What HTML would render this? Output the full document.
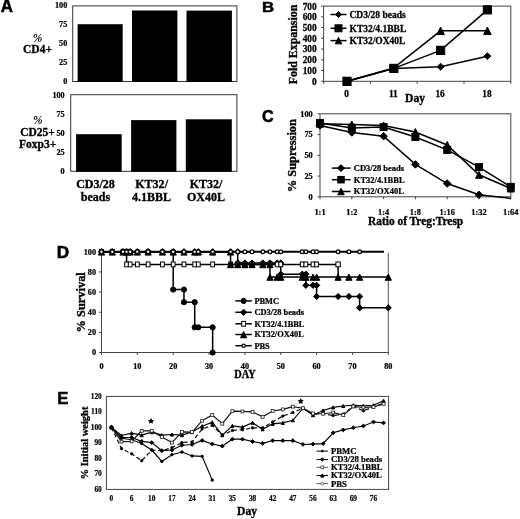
<!DOCTYPE html>
<html><head><meta charset="utf-8"><title>Figure</title>
<style>
html,body{margin:0;padding:0;background:#fff;}
body{width:520px;height:519px;overflow:hidden;font-family:"Liberation Serif",serif;}
svg{display:block;will-change:transform;filter:blur(0.3px);}
</style></head>
<body>
<svg width="520" height="519" viewBox="0 0 520 519">
<rect width="520" height="519" fill="#fff"/>
<text x="0" y="0" font-size="200.0" font-family='"Liberation Sans", sans-serif' font-weight="bold" stroke="#000" stroke-width="6.42" stroke-linejoin="miter" transform="matrix(0.08396 0 0 0.08732 0.655 12.325)">A</text>
<text x="0" y="0" font-size="200.0" font-family='"Liberation Sans", sans-serif' font-weight="bold" stroke="#000" stroke-width="6.89" stroke-linejoin="miter" transform="matrix(0.08402 0 0 0.07572 261.883 12.425)">B</text>
<text x="0" y="0" font-size="200.0" font-family='"Liberation Sans", sans-serif' font-weight="bold" stroke="#000" stroke-width="6.62" stroke-linejoin="miter" transform="matrix(0.08053 0 0 0.08556 261.931 121.954)">C</text>
<text x="0" y="0" font-size="200.0" font-family='"Liberation Sans", sans-serif' font-weight="bold" stroke="#000" stroke-width="6.38" stroke-linejoin="miter" transform="matrix(0.08577 0 0 0.08659 56.860 257.925)">D</text>
<text x="0" y="0" font-size="200.0" font-family='"Liberation Sans", sans-serif' font-weight="bold" stroke="#000" stroke-width="6.52" stroke-linejoin="miter" transform="matrix(0.08363 0 0 0.08514 57.288 403.925)">E</text>
<rect x="72.70" y="5.90" width="164.20" height="75.60" fill="none" stroke="#333" stroke-width="1"/>
<rect x="70.70" y="94.70" width="166.20" height="76.60" fill="none" stroke="#333" stroke-width="1"/>
<rect x="77.60" y="24.20" width="45.10" height="57.80" fill="#000" stroke="none" stroke-width="1"/>
<rect x="132.00" y="10.50" width="45.40" height="71.50" fill="#000" stroke="none" stroke-width="1"/>
<rect x="186.50" y="10.60" width="45.40" height="71.40" fill="#000" stroke="none" stroke-width="1"/>
<rect x="76.10" y="134.20" width="45.60" height="37.60" fill="#000" stroke="none" stroke-width="1"/>
<rect x="131.10" y="120.10" width="45.30" height="51.70" fill="#000" stroke="none" stroke-width="1"/>
<rect x="185.80" y="119.30" width="46.00" height="52.50" fill="#000" stroke="none" stroke-width="1"/>
<text x="67.30" y="84.30" font-size="8.2" text-anchor="end" font-family='"Liberation Serif", serif' font-weight="bold" fill="#000" stroke="#000" stroke-width="0.23">0</text>
<text x="64.70" y="174.10" font-size="8.2" text-anchor="end" font-family='"Liberation Serif", serif' font-weight="bold" fill="#000" stroke="#000" stroke-width="0.23">0</text>
<text x="67.30" y="65.30" font-size="8.2" text-anchor="end" font-family='"Liberation Serif", serif' font-weight="bold" fill="#000" stroke="#000" stroke-width="0.23">25</text>
<text x="64.70" y="154.95" font-size="8.2" text-anchor="end" font-family='"Liberation Serif", serif' font-weight="bold" fill="#000" stroke="#000" stroke-width="0.23">25</text>
<text x="67.30" y="46.30" font-size="8.2" text-anchor="end" font-family='"Liberation Serif", serif' font-weight="bold" fill="#000" stroke="#000" stroke-width="0.23">50</text>
<text x="64.70" y="135.80" font-size="8.2" text-anchor="end" font-family='"Liberation Serif", serif' font-weight="bold" fill="#000" stroke="#000" stroke-width="0.23">50</text>
<text x="67.30" y="27.30" font-size="8.2" text-anchor="end" font-family='"Liberation Serif", serif' font-weight="bold" fill="#000" stroke="#000" stroke-width="0.23">75</text>
<text x="64.70" y="116.65" font-size="8.2" text-anchor="end" font-family='"Liberation Serif", serif' font-weight="bold" fill="#000" stroke="#000" stroke-width="0.23">75</text>
<text x="67.30" y="8.30" font-size="8.2" text-anchor="end" font-family='"Liberation Serif", serif' font-weight="bold" fill="#000" stroke="#000" stroke-width="0.23">100</text>
<text x="64.70" y="97.50" font-size="8.2" text-anchor="end" font-family='"Liberation Serif", serif' font-weight="bold" fill="#000" stroke="#000" stroke-width="0.23">100</text>
<text x="37.50" y="41.50" font-size="11.5" text-anchor="middle" font-family='"Liberation Serif", serif' font-weight="bold" fill="#000" font-style="italic">%</text>
<text x="37.50" y="53.00" font-size="11.5" text-anchor="middle" font-family='"Liberation Serif", serif' font-weight="bold" fill="#000" stroke="#000" stroke-width="0.32">CD4+</text>
<text x="37.70" y="124.20" font-size="11.5" text-anchor="middle" font-family='"Liberation Serif", serif' font-weight="bold" fill="#000" font-style="italic">%</text>
<text x="37.50" y="136.00" font-size="11.5" text-anchor="middle" font-family='"Liberation Serif", serif' font-weight="bold" fill="#000" stroke="#000" stroke-width="0.32">CD25+</text>
<text x="37.60" y="148.40" font-size="11.5" text-anchor="middle" font-family='"Liberation Serif", serif' font-weight="bold" fill="#000" stroke="#000" stroke-width="0.32">Foxp3+</text>
<text x="0" y="0" font-size="13.0" text-anchor="middle" transform="translate(95.50 187.90) scale(0.9250 1)" font-family='"Liberation Serif", serif' font-weight="bold" fill="#000" stroke="#000" stroke-width="0.36">CD3/28</text>
<text x="0" y="0" font-size="13.0" text-anchor="middle" transform="translate(95.50 201.30) scale(0.9250 1)" font-family='"Liberation Serif", serif' font-weight="bold" fill="#000" stroke="#000" stroke-width="0.36">beads</text>
<text x="0" y="0" font-size="13.0" text-anchor="middle" transform="translate(151.60 187.90) scale(0.9250 1)" font-family='"Liberation Serif", serif' font-weight="bold" fill="#000" stroke="#000" stroke-width="0.36">KT32/</text>
<text x="0" y="0" font-size="13.0" text-anchor="middle" transform="translate(151.60 201.30) scale(0.9250 1)" font-family='"Liberation Serif", serif' font-weight="bold" fill="#000" stroke="#000" stroke-width="0.36">4.1BBL</text>
<text x="0" y="0" font-size="13.0" text-anchor="middle" transform="translate(206.00 187.90) scale(0.9250 1)" font-family='"Liberation Serif", serif' font-weight="bold" fill="#000" stroke="#000" stroke-width="0.36">KT32/</text>
<text x="0" y="0" font-size="13.0" text-anchor="middle" transform="translate(206.00 201.30) scale(0.9250 1)" font-family='"Liberation Serif", serif' font-weight="bold" fill="#000" stroke="#000" stroke-width="0.36">OX40L</text>
<rect x="323.60" y="6.10" width="187.20" height="75.20" fill="none" stroke="#444" stroke-width="1"/>
<line x1="321.10" y1="81.30" x2="323.60" y2="81.30" stroke="#444" stroke-width="1"/>
<text x="316.60" y="84.70" font-size="9.3" text-anchor="end" font-family='"Liberation Serif", serif' font-weight="bold" fill="#000" stroke="#000" stroke-width="0.26">0</text>
<line x1="321.10" y1="70.56" x2="323.60" y2="70.56" stroke="#444" stroke-width="1"/>
<text x="316.60" y="73.96" font-size="9.3" text-anchor="end" font-family='"Liberation Serif", serif' font-weight="bold" fill="#000" stroke="#000" stroke-width="0.26">100</text>
<line x1="321.10" y1="59.81" x2="323.60" y2="59.81" stroke="#444" stroke-width="1"/>
<text x="316.60" y="63.21" font-size="9.3" text-anchor="end" font-family='"Liberation Serif", serif' font-weight="bold" fill="#000" stroke="#000" stroke-width="0.26">200</text>
<line x1="321.10" y1="49.07" x2="323.60" y2="49.07" stroke="#444" stroke-width="1"/>
<text x="316.60" y="52.47" font-size="9.3" text-anchor="end" font-family='"Liberation Serif", serif' font-weight="bold" fill="#000" stroke="#000" stroke-width="0.26">300</text>
<line x1="321.10" y1="38.33" x2="323.60" y2="38.33" stroke="#444" stroke-width="1"/>
<text x="316.60" y="41.73" font-size="9.3" text-anchor="end" font-family='"Liberation Serif", serif' font-weight="bold" fill="#000" stroke="#000" stroke-width="0.26">400</text>
<line x1="321.10" y1="27.59" x2="323.60" y2="27.59" stroke="#444" stroke-width="1"/>
<text x="316.60" y="30.99" font-size="9.3" text-anchor="end" font-family='"Liberation Serif", serif' font-weight="bold" fill="#000" stroke="#000" stroke-width="0.26">500</text>
<line x1="321.10" y1="16.84" x2="323.60" y2="16.84" stroke="#444" stroke-width="1"/>
<text x="316.60" y="20.24" font-size="9.3" text-anchor="end" font-family='"Liberation Serif", serif' font-weight="bold" fill="#000" stroke="#000" stroke-width="0.26">600</text>
<line x1="321.10" y1="6.10" x2="323.60" y2="6.10" stroke="#444" stroke-width="1"/>
<text x="316.60" y="9.50" font-size="9.3" text-anchor="end" font-family='"Liberation Serif", serif' font-weight="bold" fill="#000" stroke="#000" stroke-width="0.26">700</text>
<line x1="323.60" y1="81.30" x2="323.60" y2="83.80" stroke="#444" stroke-width="1"/>
<line x1="370.40" y1="81.30" x2="370.40" y2="83.80" stroke="#444" stroke-width="1"/>
<line x1="417.20" y1="81.30" x2="417.20" y2="83.80" stroke="#444" stroke-width="1"/>
<line x1="464.00" y1="81.30" x2="464.00" y2="83.80" stroke="#444" stroke-width="1"/>
<line x1="510.80" y1="81.30" x2="510.80" y2="83.80" stroke="#444" stroke-width="1"/>
<text x="346.50" y="97.00" font-size="9.3" text-anchor="middle" font-family='"Liberation Serif", serif' font-weight="bold" fill="#000" stroke="#000" stroke-width="0.26">0</text>
<text x="393.30" y="97.00" font-size="9.3" text-anchor="middle" font-family='"Liberation Serif", serif' font-weight="bold" fill="#000" stroke="#000" stroke-width="0.26">11</text>
<text x="440.10" y="97.00" font-size="9.3" text-anchor="middle" font-family='"Liberation Serif", serif' font-weight="bold" fill="#000" stroke="#000" stroke-width="0.26">16</text>
<text x="486.90" y="97.00" font-size="9.3" text-anchor="middle" font-family='"Liberation Serif", serif' font-weight="bold" fill="#000" stroke="#000" stroke-width="0.26">18</text>
<text x="0" y="0" font-size="13.4" text-anchor="middle" transform="translate(415.00 102.40) scale(0.8650 1)" font-family='"Liberation Serif", serif' font-weight="bold" fill="#000" stroke="#000" stroke-width="0.38">Day</text>
<text x="297.00" y="44.50" font-size="11.9" text-anchor="middle" font-family='"Liberation Serif", serif' font-weight="bold" fill="#000" stroke="#000" stroke-width="0.33" transform="rotate(-90 297.00 44.50)">Fold Expansion</text>
<polyline points="347.00,81.30 393.80,68.41 440.60,66.69 487.40,56.16" fill="none" stroke="#000" stroke-width="1.5" stroke-linejoin="miter"/>
<polyline points="347.00,81.30 393.80,68.41 440.60,50.36 487.40,9.86" fill="none" stroke="#000" stroke-width="1.5" stroke-linejoin="miter"/>
<polyline points="347.00,81.30 393.80,67.87 440.60,30.81 487.40,30.81" fill="none" stroke="#000" stroke-width="1.5" stroke-linejoin="miter"/>
<polygon points="347.00,77.85 350.45,81.30 347.00,84.75 343.55,81.30" fill="#000" stroke="#000" stroke-width="1"/>
<polygon points="393.80,64.96 397.25,68.41 393.80,71.86 390.35,68.41" fill="#000" stroke="#000" stroke-width="1"/>
<polygon points="440.60,63.24 444.05,66.69 440.60,70.14 437.15,66.69" fill="#000" stroke="#000" stroke-width="1"/>
<polygon points="487.40,52.71 490.85,56.16 487.40,59.61 483.95,56.16" fill="#000" stroke="#000" stroke-width="1"/>
<polygon points="347.00,77.55 350.75,85.05 343.25,85.05" fill="#000" stroke="#000" stroke-width="1"/>
<polygon points="393.80,64.12 397.55,71.62 390.05,71.62" fill="#000" stroke="#000" stroke-width="1"/>
<polygon points="440.60,27.06 444.35,34.56 436.85,34.56" fill="#000" stroke="#000" stroke-width="1"/>
<polygon points="487.40,27.06 491.15,34.56 483.65,34.56" fill="#000" stroke="#000" stroke-width="1"/>
<rect x="342.90" y="77.20" width="8.20" height="8.20" fill="#000" stroke="#000" stroke-width="1"/>
<rect x="389.70" y="64.31" width="8.20" height="8.20" fill="#000" stroke="#000" stroke-width="1"/>
<rect x="436.50" y="46.26" width="8.20" height="8.20" fill="#000" stroke="#000" stroke-width="1"/>
<rect x="483.30" y="5.76" width="8.20" height="8.20" fill="#000" stroke="#000" stroke-width="1"/>
<line x1="330.50" y1="14.50" x2="346.50" y2="14.50" stroke="#000" stroke-width="1.5"/>
<polygon points="338.50,11.50 341.50,14.50 338.50,17.50 335.50,14.50" fill="#000" stroke="#000" stroke-width="1"/>
<text x="349.50" y="17.70" font-size="9.5" text-anchor="start" font-family='"Liberation Serif", serif' font-weight="bold" fill="#000" stroke="#000" stroke-width="0.27">CD3/28 beads</text>
<line x1="330.50" y1="28.30" x2="346.50" y2="28.30" stroke="#000" stroke-width="1.5"/>
<rect x="335.00" y="24.80" width="7.00" height="7.00" fill="#000" stroke="#000" stroke-width="1"/>
<text x="349.50" y="31.50" font-size="9.5" text-anchor="start" font-family='"Liberation Serif", serif' font-weight="bold" fill="#000" stroke="#000" stroke-width="0.27">KT32/4.1BBL</text>
<line x1="330.50" y1="40.60" x2="346.50" y2="40.60" stroke="#000" stroke-width="1.5"/>
<polygon points="338.50,37.35 341.75,43.85 335.25,43.85" fill="#000" stroke="#000" stroke-width="1"/>
<text x="349.50" y="43.80" font-size="9.5" text-anchor="start" font-family='"Liberation Serif", serif' font-weight="bold" fill="#000" stroke="#000" stroke-width="0.27">KT32/OX40L</text>
<rect x="320.00" y="113.80" width="190.80" height="83.00" fill="none" stroke="#444" stroke-width="1"/>
<line x1="317.50" y1="196.80" x2="320.00" y2="196.80" stroke="#444" stroke-width="1"/>
<text x="312.80" y="199.70" font-size="8.4" text-anchor="end" font-family='"Liberation Serif", serif' font-weight="bold" fill="#000" stroke="#000" stroke-width="0.24">0</text>
<line x1="317.50" y1="176.05" x2="320.00" y2="176.05" stroke="#444" stroke-width="1"/>
<text x="312.80" y="178.95" font-size="8.4" text-anchor="end" font-family='"Liberation Serif", serif' font-weight="bold" fill="#000" stroke="#000" stroke-width="0.24">25</text>
<line x1="317.50" y1="155.30" x2="320.00" y2="155.30" stroke="#444" stroke-width="1"/>
<text x="312.80" y="158.20" font-size="8.4" text-anchor="end" font-family='"Liberation Serif", serif' font-weight="bold" fill="#000" stroke="#000" stroke-width="0.24">50</text>
<line x1="317.50" y1="134.55" x2="320.00" y2="134.55" stroke="#444" stroke-width="1"/>
<text x="312.80" y="137.45" font-size="8.4" text-anchor="end" font-family='"Liberation Serif", serif' font-weight="bold" fill="#000" stroke="#000" stroke-width="0.24">75</text>
<line x1="317.50" y1="113.80" x2="320.00" y2="113.80" stroke="#444" stroke-width="1"/>
<text x="312.80" y="116.70" font-size="8.4" text-anchor="end" font-family='"Liberation Serif", serif' font-weight="bold" fill="#000" stroke="#000" stroke-width="0.24">100</text>
<line x1="320.00" y1="196.80" x2="320.00" y2="199.30" stroke="#444" stroke-width="1"/>
<text x="320.00" y="214.60" font-size="8.4" text-anchor="middle" font-family='"Liberation Serif", serif' font-weight="bold" fill="#000" stroke="#000" stroke-width="0.24">1:1</text>
<line x1="351.80" y1="196.80" x2="351.80" y2="199.30" stroke="#444" stroke-width="1"/>
<text x="351.80" y="214.60" font-size="8.4" text-anchor="middle" font-family='"Liberation Serif", serif' font-weight="bold" fill="#000" stroke="#000" stroke-width="0.24">1:2</text>
<line x1="383.60" y1="196.80" x2="383.60" y2="199.30" stroke="#444" stroke-width="1"/>
<text x="383.60" y="214.60" font-size="8.4" text-anchor="middle" font-family='"Liberation Serif", serif' font-weight="bold" fill="#000" stroke="#000" stroke-width="0.24">1:4</text>
<line x1="415.40" y1="196.80" x2="415.40" y2="199.30" stroke="#444" stroke-width="1"/>
<text x="415.40" y="214.60" font-size="8.4" text-anchor="middle" font-family='"Liberation Serif", serif' font-weight="bold" fill="#000" stroke="#000" stroke-width="0.24">1:8</text>
<line x1="447.20" y1="196.80" x2="447.20" y2="199.30" stroke="#444" stroke-width="1"/>
<text x="447.20" y="214.60" font-size="8.4" text-anchor="middle" font-family='"Liberation Serif", serif' font-weight="bold" fill="#000" stroke="#000" stroke-width="0.24">1:16</text>
<line x1="479.00" y1="196.80" x2="479.00" y2="199.30" stroke="#444" stroke-width="1"/>
<text x="479.00" y="214.60" font-size="8.4" text-anchor="middle" font-family='"Liberation Serif", serif' font-weight="bold" fill="#000" stroke="#000" stroke-width="0.24">1:32</text>
<line x1="510.80" y1="196.80" x2="510.80" y2="199.30" stroke="#444" stroke-width="1"/>
<text x="510.80" y="214.60" font-size="8.4" text-anchor="middle" font-family='"Liberation Serif", serif' font-weight="bold" fill="#000" stroke="#000" stroke-width="0.24">1:64</text>
<text x="0" y="0" font-size="13.4" text-anchor="middle" transform="translate(415.60 225.40) scale(0.8510 1)" font-family='"Liberation Serif", serif' font-weight="bold" fill="#000" stroke="#000" stroke-width="0.38">Ratio of Treg:Tresp</text>
<text x="296.30" y="155.60" font-size="12.4" text-anchor="middle" font-family='"Liberation Serif", serif' font-weight="bold" fill="#000" stroke="#000" stroke-width="0.35" transform="rotate(-90 296.30 155.60)">% Supression</text>
<polyline points="320.00,125.42 351.80,132.48 383.60,136.21 415.40,164.43 447.20,183.52 479.00,194.81 510.80,198.46" fill="none" stroke="#000" stroke-width="1.5" stroke-linejoin="miter"/>
<polyline points="320.00,122.93 351.80,127.91 383.60,127.08 415.40,137.04 447.20,149.91 479.00,167.09 510.80,186.84" fill="none" stroke="#000" stroke-width="1.5" stroke-linejoin="miter"/>
<polyline points="320.00,123.76 351.80,124.59 383.60,125.42 415.40,132.06 447.20,144.93 479.00,174.81 510.80,188.50" fill="none" stroke="#000" stroke-width="1.5" stroke-linejoin="miter"/>
<polygon points="320.00,121.67 323.75,125.42 320.00,129.17 316.25,125.42" fill="#000" stroke="#000" stroke-width="1"/>
<polygon points="351.80,128.73 355.55,132.48 351.80,136.23 348.05,132.48" fill="#000" stroke="#000" stroke-width="1"/>
<polygon points="383.60,132.46 387.35,136.21 383.60,139.96 379.85,136.21" fill="#000" stroke="#000" stroke-width="1"/>
<polygon points="415.40,160.68 419.15,164.43 415.40,168.18 411.65,164.43" fill="#000" stroke="#000" stroke-width="1"/>
<polygon points="447.20,179.77 450.95,183.52 447.20,187.27 443.45,183.52" fill="#000" stroke="#000" stroke-width="1"/>
<polygon points="479.00,191.06 482.75,194.81 479.00,198.56 475.25,194.81" fill="#000" stroke="#000" stroke-width="1"/>
<polygon points="320.00,120.26 323.50,127.26 316.50,127.26" fill="#000" stroke="#000" stroke-width="1"/>
<polygon points="351.80,121.09 355.30,128.09 348.30,128.09" fill="#000" stroke="#000" stroke-width="1"/>
<polygon points="383.60,121.92 387.10,128.92 380.10,128.92" fill="#000" stroke="#000" stroke-width="1"/>
<polygon points="415.40,128.56 418.90,135.56 411.90,135.56" fill="#000" stroke="#000" stroke-width="1"/>
<polygon points="447.20,141.43 450.70,148.43 443.70,148.43" fill="#000" stroke="#000" stroke-width="1"/>
<polygon points="479.00,171.31 482.50,178.31 475.50,178.31" fill="#000" stroke="#000" stroke-width="1"/>
<polygon points="510.80,185.00 514.30,192.00 507.30,192.00" fill="#000" stroke="#000" stroke-width="1"/>
<rect x="316.50" y="119.43" width="7.00" height="7.00" fill="#000" stroke="#000" stroke-width="1"/>
<rect x="348.30" y="124.41" width="7.00" height="7.00" fill="#000" stroke="#000" stroke-width="1"/>
<rect x="380.10" y="123.58" width="7.00" height="7.00" fill="#000" stroke="#000" stroke-width="1"/>
<rect x="411.90" y="133.54" width="7.00" height="7.00" fill="#000" stroke="#000" stroke-width="1"/>
<rect x="443.70" y="146.41" width="7.00" height="7.00" fill="#000" stroke="#000" stroke-width="1"/>
<rect x="475.50" y="163.59" width="7.00" height="7.00" fill="#000" stroke="#000" stroke-width="1"/>
<rect x="507.30" y="183.34" width="7.00" height="7.00" fill="#000" stroke="#000" stroke-width="1"/>
<line x1="331.80" y1="168.10" x2="350.60" y2="168.10" stroke="#000" stroke-width="1.5"/>
<polygon points="341.00,164.60 344.50,168.10 341.00,171.60 337.50,168.10" fill="#000" stroke="#000" stroke-width="1"/>
<text x="353.80" y="171.00" font-size="8.5" text-anchor="start" font-family='"Liberation Serif", serif' font-weight="bold" fill="#000" stroke="#000" stroke-width="0.24">CD3/28 beads</text>
<line x1="331.80" y1="179.70" x2="350.60" y2="179.70" stroke="#000" stroke-width="1.5"/>
<rect x="337.75" y="176.45" width="6.50" height="6.50" fill="#000" stroke="#000" stroke-width="1"/>
<text x="353.80" y="182.60" font-size="8.5" text-anchor="start" font-family='"Liberation Serif", serif' font-weight="bold" fill="#000" stroke="#000" stroke-width="0.24">KT32/4.1BBL</text>
<line x1="331.80" y1="191.50" x2="350.60" y2="191.50" stroke="#000" stroke-width="1.5"/>
<polygon points="341.00,188.25 344.25,194.75 337.75,194.75" fill="#000" stroke="#000" stroke-width="1"/>
<text x="353.80" y="194.40" font-size="8.5" text-anchor="start" font-family='"Liberation Serif", serif' font-weight="bold" fill="#000" stroke="#000" stroke-width="0.24">KT32/OX40L</text>
<line x1="101.50" y1="251.80" x2="101.50" y2="352.50" stroke="#444" stroke-width="1"/>
<line x1="101.50" y1="352.50" x2="388.30" y2="352.50" stroke="#444" stroke-width="1"/>
<line x1="388.30" y1="252.80" x2="388.30" y2="352.50" stroke="#555" stroke-width="1"/>
<line x1="99.00" y1="352.50" x2="101.50" y2="352.50" stroke="#444" stroke-width="1"/>
<text x="96.00" y="355.30" font-size="8.2" text-anchor="end" font-family='"Liberation Serif", serif' font-weight="bold" fill="#000" stroke="#000" stroke-width="0.23">0</text>
<line x1="99.00" y1="332.36" x2="101.50" y2="332.36" stroke="#444" stroke-width="1"/>
<text x="96.00" y="335.16" font-size="8.2" text-anchor="end" font-family='"Liberation Serif", serif' font-weight="bold" fill="#000" stroke="#000" stroke-width="0.23">20</text>
<line x1="99.00" y1="312.22" x2="101.50" y2="312.22" stroke="#444" stroke-width="1"/>
<text x="96.00" y="315.02" font-size="8.2" text-anchor="end" font-family='"Liberation Serif", serif' font-weight="bold" fill="#000" stroke="#000" stroke-width="0.23">40</text>
<line x1="99.00" y1="292.08" x2="101.50" y2="292.08" stroke="#444" stroke-width="1"/>
<text x="96.00" y="294.88" font-size="8.2" text-anchor="end" font-family='"Liberation Serif", serif' font-weight="bold" fill="#000" stroke="#000" stroke-width="0.23">60</text>
<line x1="99.00" y1="271.94" x2="101.50" y2="271.94" stroke="#444" stroke-width="1"/>
<text x="96.00" y="274.74" font-size="8.2" text-anchor="end" font-family='"Liberation Serif", serif' font-weight="bold" fill="#000" stroke="#000" stroke-width="0.23">80</text>
<line x1="99.00" y1="251.80" x2="101.50" y2="251.80" stroke="#444" stroke-width="1"/>
<text x="96.00" y="254.60" font-size="8.2" text-anchor="end" font-family='"Liberation Serif", serif' font-weight="bold" fill="#000" stroke="#000" stroke-width="0.23">100</text>
<line x1="101.50" y1="352.50" x2="101.50" y2="355.00" stroke="#444" stroke-width="1"/>
<text x="101.50" y="369.10" font-size="8.2" text-anchor="middle" font-family='"Liberation Serif", serif' font-weight="bold" fill="#000" stroke="#000" stroke-width="0.23">0</text>
<line x1="137.35" y1="352.50" x2="137.35" y2="355.00" stroke="#444" stroke-width="1"/>
<text x="137.35" y="369.10" font-size="8.2" text-anchor="middle" font-family='"Liberation Serif", serif' font-weight="bold" fill="#000" stroke="#000" stroke-width="0.23">10</text>
<line x1="173.20" y1="352.50" x2="173.20" y2="355.00" stroke="#444" stroke-width="1"/>
<text x="173.20" y="369.10" font-size="8.2" text-anchor="middle" font-family='"Liberation Serif", serif' font-weight="bold" fill="#000" stroke="#000" stroke-width="0.23">20</text>
<line x1="209.05" y1="352.50" x2="209.05" y2="355.00" stroke="#444" stroke-width="1"/>
<text x="209.05" y="369.10" font-size="8.2" text-anchor="middle" font-family='"Liberation Serif", serif' font-weight="bold" fill="#000" stroke="#000" stroke-width="0.23">30</text>
<line x1="244.90" y1="352.50" x2="244.90" y2="355.00" stroke="#444" stroke-width="1"/>
<text x="244.90" y="369.10" font-size="8.2" text-anchor="middle" font-family='"Liberation Serif", serif' font-weight="bold" fill="#000" stroke="#000" stroke-width="0.23">40</text>
<line x1="280.75" y1="352.50" x2="280.75" y2="355.00" stroke="#444" stroke-width="1"/>
<text x="280.75" y="369.10" font-size="8.2" text-anchor="middle" font-family='"Liberation Serif", serif' font-weight="bold" fill="#000" stroke="#000" stroke-width="0.23">50</text>
<line x1="316.60" y1="352.50" x2="316.60" y2="355.00" stroke="#444" stroke-width="1"/>
<text x="316.60" y="369.10" font-size="8.2" text-anchor="middle" font-family='"Liberation Serif", serif' font-weight="bold" fill="#000" stroke="#000" stroke-width="0.23">60</text>
<line x1="352.45" y1="352.50" x2="352.45" y2="355.00" stroke="#444" stroke-width="1"/>
<text x="352.45" y="369.10" font-size="8.2" text-anchor="middle" font-family='"Liberation Serif", serif' font-weight="bold" fill="#000" stroke="#000" stroke-width="0.23">70</text>
<line x1="388.30" y1="352.50" x2="388.30" y2="355.00" stroke="#444" stroke-width="1"/>
<text x="388.30" y="369.10" font-size="8.2" text-anchor="middle" font-family='"Liberation Serif", serif' font-weight="bold" fill="#000" stroke="#000" stroke-width="0.23">80</text>
<text x="245.00" y="378.20" font-size="12.2" text-anchor="middle" font-family='"Liberation Serif", serif' font-weight="bold" fill="#000" stroke="#000" stroke-width="0.34" textLength="21.5" lengthAdjust="spacingAndGlyphs">DAY</text>
<text x="84.90" y="302.30" font-size="12.4" text-anchor="middle" font-family='"Liberation Serif", serif' font-weight="bold" fill="#000" stroke="#000" stroke-width="0.35" transform="rotate(-90 84.90 302.30)">% Survival</text>
<polyline points="101.50,251.80 173.20,251.80 173.20,289.56 183.96,289.56 183.96,302.15 194.71,302.15 194.71,327.32 212.64,327.32 212.64,352.50 212.64,352.50" fill="none" stroke="#000" stroke-width="1.5" stroke-linejoin="miter"/>
<circle cx="101.50" cy="251.80" r="2.60" fill="#000" stroke="#000" stroke-width="1"/>
<circle cx="112.25" cy="251.80" r="2.60" fill="#000" stroke="#000" stroke-width="1"/>
<circle cx="123.01" cy="251.80" r="2.60" fill="#000" stroke="#000" stroke-width="1"/>
<circle cx="126.59" cy="251.80" r="2.60" fill="#000" stroke="#000" stroke-width="1"/>
<circle cx="130.18" cy="251.80" r="2.60" fill="#000" stroke="#000" stroke-width="1"/>
<circle cx="137.35" cy="251.80" r="2.60" fill="#000" stroke="#000" stroke-width="1"/>
<circle cx="148.11" cy="251.80" r="2.60" fill="#000" stroke="#000" stroke-width="1"/>
<circle cx="162.44" cy="251.80" r="2.60" fill="#000" stroke="#000" stroke-width="1"/>
<circle cx="173.20" cy="289.56" r="2.60" fill="#000" stroke="#000" stroke-width="1"/>
<circle cx="173.20" cy="251.80" r="2.60" fill="#000" stroke="#000" stroke-width="1"/>
<circle cx="183.96" cy="302.15" r="2.60" fill="#000" stroke="#000" stroke-width="1"/>
<circle cx="183.96" cy="289.56" r="2.60" fill="#000" stroke="#000" stroke-width="1"/>
<circle cx="194.71" cy="327.32" r="2.60" fill="#000" stroke="#000" stroke-width="1"/>
<circle cx="194.71" cy="302.15" r="2.60" fill="#000" stroke="#000" stroke-width="1"/>
<circle cx="198.30" cy="327.32" r="2.60" fill="#000" stroke="#000" stroke-width="1"/>
<circle cx="212.64" cy="352.50" r="2.60" fill="#000" stroke="#000" stroke-width="1"/>
<circle cx="212.64" cy="327.32" r="2.60" fill="#000" stroke="#000" stroke-width="1"/>
<polyline points="101.50,251.80 237.73,251.80 237.73,262.98 280.75,262.98 280.75,274.16 305.85,274.16 305.85,285.33 316.60,285.33 316.60,296.51 359.62,296.51 359.62,307.79 388.30,307.79" fill="none" stroke="#000" stroke-width="1.5" stroke-linejoin="miter"/>
<polygon points="101.50,248.70 104.60,251.80 101.50,254.90 98.40,251.80" fill="#000" stroke="#000" stroke-width="1"/>
<polygon points="112.25,248.70 115.35,251.80 112.25,254.90 109.16,251.80" fill="#000" stroke="#000" stroke-width="1"/>
<polygon points="123.01,248.70 126.11,251.80 123.01,254.90 119.91,251.80" fill="#000" stroke="#000" stroke-width="1"/>
<polygon points="126.59,248.70 129.69,251.80 126.59,254.90 123.50,251.80" fill="#000" stroke="#000" stroke-width="1"/>
<polygon points="130.18,248.70 133.28,251.80 130.18,254.90 127.08,251.80" fill="#000" stroke="#000" stroke-width="1"/>
<polygon points="137.35,248.70 140.45,251.80 137.35,254.90 134.25,251.80" fill="#000" stroke="#000" stroke-width="1"/>
<polygon points="148.11,248.70 151.21,251.80 148.11,254.90 145.01,251.80" fill="#000" stroke="#000" stroke-width="1"/>
<polygon points="162.44,248.70 165.54,251.80 162.44,254.90 159.34,251.80" fill="#000" stroke="#000" stroke-width="1"/>
<polygon points="173.20,248.70 176.30,251.80 173.20,254.90 170.10,251.80" fill="#000" stroke="#000" stroke-width="1"/>
<polygon points="183.96,248.70 187.06,251.80 183.96,254.90 180.86,251.80" fill="#000" stroke="#000" stroke-width="1"/>
<polygon points="194.71,248.70 197.81,251.80 194.71,254.90 191.61,251.80" fill="#000" stroke="#000" stroke-width="1"/>
<polygon points="198.30,248.70 201.40,251.80 198.30,254.90 195.20,251.80" fill="#000" stroke="#000" stroke-width="1"/>
<polygon points="212.64,248.70 215.74,251.80 212.64,254.90 209.54,251.80" fill="#000" stroke="#000" stroke-width="1"/>
<polygon points="230.56,248.70 233.66,251.80 230.56,254.90 227.46,251.80" fill="#000" stroke="#000" stroke-width="1"/>
<polygon points="237.73,259.88 240.83,262.98 237.73,266.08 234.63,262.98" fill="#000" stroke="#000" stroke-width="1"/>
<polygon points="237.73,248.70 240.83,251.80 237.73,254.90 234.63,251.80" fill="#000" stroke="#000" stroke-width="1"/>
<polygon points="244.90,259.88 248.00,262.98 244.90,266.08 241.80,262.98" fill="#000" stroke="#000" stroke-width="1"/>
<polygon points="252.07,259.88 255.17,262.98 252.07,266.08 248.97,262.98" fill="#000" stroke="#000" stroke-width="1"/>
<polygon points="262.82,259.88 265.93,262.98 262.82,266.08 259.72,262.98" fill="#000" stroke="#000" stroke-width="1"/>
<polygon points="270.00,259.88 273.10,262.98 270.00,266.08 266.89,262.98" fill="#000" stroke="#000" stroke-width="1"/>
<polygon points="277.17,259.88 280.27,262.98 277.17,266.08 274.06,262.98" fill="#000" stroke="#000" stroke-width="1"/>
<polygon points="280.75,271.06 283.85,274.16 280.75,277.26 277.65,274.16" fill="#000" stroke="#000" stroke-width="1"/>
<polygon points="280.75,259.88 283.85,262.98 280.75,266.08 277.65,262.98" fill="#000" stroke="#000" stroke-width="1"/>
<polygon points="302.26,271.06 305.36,274.16 302.26,277.26 299.16,274.16" fill="#000" stroke="#000" stroke-width="1"/>
<polygon points="305.85,282.23 308.95,285.33 305.85,288.43 302.75,285.33" fill="#000" stroke="#000" stroke-width="1"/>
<polygon points="305.85,271.06 308.95,274.16 305.85,277.26 302.75,274.16" fill="#000" stroke="#000" stroke-width="1"/>
<polygon points="313.01,282.23 316.12,285.33 313.01,288.43 309.91,285.33" fill="#000" stroke="#000" stroke-width="1"/>
<polygon points="316.60,293.41 319.70,296.51 316.60,299.61 313.50,296.51" fill="#000" stroke="#000" stroke-width="1"/>
<polygon points="316.60,282.23 319.70,285.33 316.60,288.43 313.50,285.33" fill="#000" stroke="#000" stroke-width="1"/>
<polygon points="338.11,293.41 341.21,296.51 338.11,299.61 335.01,296.51" fill="#000" stroke="#000" stroke-width="1"/>
<polygon points="348.87,293.41 351.97,296.51 348.87,299.61 345.76,296.51" fill="#000" stroke="#000" stroke-width="1"/>
<polygon points="359.62,304.69 362.72,307.79 359.62,310.89 356.52,307.79" fill="#000" stroke="#000" stroke-width="1"/>
<polygon points="359.62,293.41 362.72,296.51 359.62,299.61 356.52,296.51" fill="#000" stroke="#000" stroke-width="1"/>
<polygon points="388.30,304.69 391.40,307.79 388.30,310.89 385.20,307.79" fill="#000" stroke="#000" stroke-width="1"/>
<polyline points="101.50,251.80 126.59,251.80 126.59,264.39 338.11,264.39 338.11,276.98" fill="none" stroke="#000" stroke-width="1.5" stroke-linejoin="miter"/>
<rect x="99.60" y="249.40" width="3.80" height="4.80" fill="#fff" stroke="#000" stroke-width="1.0"/>
<rect x="110.35" y="249.40" width="3.80" height="4.80" fill="#fff" stroke="#000" stroke-width="1.0"/>
<rect x="121.11" y="249.40" width="3.80" height="4.80" fill="#fff" stroke="#000" stroke-width="1.0"/>
<rect x="124.69" y="261.99" width="3.80" height="4.80" fill="#fff" stroke="#000" stroke-width="1.0"/>
<rect x="124.69" y="249.40" width="3.80" height="4.80" fill="#fff" stroke="#000" stroke-width="1.0"/>
<rect x="128.28" y="261.99" width="3.80" height="4.80" fill="#fff" stroke="#000" stroke-width="1.0"/>
<rect x="135.45" y="261.99" width="3.80" height="4.80" fill="#fff" stroke="#000" stroke-width="1.0"/>
<rect x="146.21" y="261.99" width="3.80" height="4.80" fill="#fff" stroke="#000" stroke-width="1.0"/>
<rect x="160.54" y="261.99" width="3.80" height="4.80" fill="#fff" stroke="#000" stroke-width="1.0"/>
<rect x="171.30" y="261.99" width="3.80" height="4.80" fill="#fff" stroke="#000" stroke-width="1.0"/>
<rect x="182.06" y="261.99" width="3.80" height="4.80" fill="#fff" stroke="#000" stroke-width="1.0"/>
<rect x="192.81" y="261.99" width="3.80" height="4.80" fill="#fff" stroke="#000" stroke-width="1.0"/>
<rect x="196.40" y="261.99" width="3.80" height="4.80" fill="#fff" stroke="#000" stroke-width="1.0"/>
<rect x="210.74" y="261.99" width="3.80" height="4.80" fill="#fff" stroke="#000" stroke-width="1.0"/>
<rect x="228.66" y="261.99" width="3.80" height="4.80" fill="#fff" stroke="#000" stroke-width="1.0"/>
<rect x="235.83" y="261.99" width="3.80" height="4.80" fill="#fff" stroke="#000" stroke-width="1.0"/>
<rect x="243.00" y="261.99" width="3.80" height="4.80" fill="#fff" stroke="#000" stroke-width="1.0"/>
<rect x="250.17" y="261.99" width="3.80" height="4.80" fill="#fff" stroke="#000" stroke-width="1.0"/>
<rect x="260.93" y="261.99" width="3.80" height="4.80" fill="#fff" stroke="#000" stroke-width="1.0"/>
<rect x="268.10" y="261.99" width="3.80" height="4.80" fill="#fff" stroke="#000" stroke-width="1.0"/>
<rect x="275.27" y="261.99" width="3.80" height="4.80" fill="#fff" stroke="#000" stroke-width="1.0"/>
<rect x="278.85" y="261.99" width="3.80" height="4.80" fill="#fff" stroke="#000" stroke-width="1.0"/>
<rect x="300.36" y="261.99" width="3.80" height="4.80" fill="#fff" stroke="#000" stroke-width="1.0"/>
<rect x="303.95" y="261.99" width="3.80" height="4.80" fill="#fff" stroke="#000" stroke-width="1.0"/>
<rect x="311.12" y="261.99" width="3.80" height="4.80" fill="#fff" stroke="#000" stroke-width="1.0"/>
<rect x="314.70" y="261.99" width="3.80" height="4.80" fill="#fff" stroke="#000" stroke-width="1.0"/>
<rect x="335.91" y="261.99" width="4.40" height="4.80" fill="#fff" stroke="#000" stroke-width="1.0"/>
<polyline points="101.50,251.80 230.56,251.80 230.56,264.39 270.00,264.39 270.00,276.98 388.30,276.98" fill="none" stroke="#000" stroke-width="1.5" stroke-linejoin="miter"/>
<polygon points="101.50,248.90 104.60,255.10 98.40,255.10" fill="#000" stroke="#000" stroke-width="1"/>
<polygon points="112.25,248.90 115.35,255.10 109.16,255.10" fill="#000" stroke="#000" stroke-width="1"/>
<polygon points="123.01,248.90 126.11,255.10 119.91,255.10" fill="#000" stroke="#000" stroke-width="1"/>
<polygon points="126.59,248.90 129.69,255.10 123.50,255.10" fill="#000" stroke="#000" stroke-width="1"/>
<polygon points="130.18,248.90 133.28,255.10 127.08,255.10" fill="#000" stroke="#000" stroke-width="1"/>
<polygon points="137.35,248.90 140.45,255.10 134.25,255.10" fill="#000" stroke="#000" stroke-width="1"/>
<polygon points="148.11,248.90 151.21,255.10 145.01,255.10" fill="#000" stroke="#000" stroke-width="1"/>
<polygon points="162.44,248.90 165.54,255.10 159.34,255.10" fill="#000" stroke="#000" stroke-width="1"/>
<polygon points="173.20,248.90 176.30,255.10 170.10,255.10" fill="#000" stroke="#000" stroke-width="1"/>
<polygon points="183.96,248.90 187.06,255.10 180.86,255.10" fill="#000" stroke="#000" stroke-width="1"/>
<polygon points="194.71,248.90 197.81,255.10 191.61,255.10" fill="#000" stroke="#000" stroke-width="1"/>
<polygon points="198.30,248.90 201.40,255.10 195.20,255.10" fill="#000" stroke="#000" stroke-width="1"/>
<polygon points="212.64,248.90 215.74,255.10 209.54,255.10" fill="#000" stroke="#000" stroke-width="1"/>
<polygon points="230.56,261.49 233.66,267.69 227.46,267.69" fill="#000" stroke="#000" stroke-width="1"/>
<polygon points="230.56,248.90 233.66,255.10 227.46,255.10" fill="#000" stroke="#000" stroke-width="1"/>
<polygon points="237.73,261.49 240.83,267.69 234.63,267.69" fill="#000" stroke="#000" stroke-width="1"/>
<polygon points="244.90,261.49 248.00,267.69 241.80,267.69" fill="#000" stroke="#000" stroke-width="1"/>
<polygon points="252.07,261.49 255.17,267.69 248.97,267.69" fill="#000" stroke="#000" stroke-width="1"/>
<polygon points="262.82,261.49 265.93,267.69 259.72,267.69" fill="#000" stroke="#000" stroke-width="1"/>
<polygon points="270.00,274.07 273.10,280.28 266.89,280.28" fill="#000" stroke="#000" stroke-width="1"/>
<polygon points="270.00,261.49 273.10,267.69 266.89,267.69" fill="#000" stroke="#000" stroke-width="1"/>
<polygon points="277.17,274.07 280.27,280.28 274.06,280.28" fill="#000" stroke="#000" stroke-width="1"/>
<polygon points="280.75,274.07 283.85,280.28 277.65,280.28" fill="#000" stroke="#000" stroke-width="1"/>
<polygon points="302.26,274.07 305.36,280.28 299.16,280.28" fill="#000" stroke="#000" stroke-width="1"/>
<polygon points="305.85,274.07 308.95,280.28 302.75,280.28" fill="#000" stroke="#000" stroke-width="1"/>
<polygon points="313.01,274.07 316.12,280.28 309.91,280.28" fill="#000" stroke="#000" stroke-width="1"/>
<polygon points="316.60,274.07 319.70,280.28 313.50,280.28" fill="#000" stroke="#000" stroke-width="1"/>
<polygon points="338.11,274.07 341.21,280.28 335.01,280.28" fill="#000" stroke="#000" stroke-width="1"/>
<polygon points="348.87,274.07 351.97,280.28 345.76,280.28" fill="#000" stroke="#000" stroke-width="1"/>
<polygon points="359.62,274.07 362.72,280.28 356.52,280.28" fill="#000" stroke="#000" stroke-width="1"/>
<polygon points="388.30,274.07 391.40,280.28 385.20,280.28" fill="#000" stroke="#000" stroke-width="1"/>
<polyline points="101.50,251.80 384.00,251.80" fill="none" stroke="#000" stroke-width="2.0" stroke-linejoin="miter"/>
<circle cx="101.50" cy="251.80" r="1.85" fill="#fff" stroke="#000" stroke-width="1.3"/>
<circle cx="112.25" cy="251.80" r="1.85" fill="#fff" stroke="#000" stroke-width="1.3"/>
<circle cx="123.01" cy="251.80" r="1.85" fill="#fff" stroke="#000" stroke-width="1.3"/>
<circle cx="126.59" cy="251.80" r="1.85" fill="#fff" stroke="#000" stroke-width="1.3"/>
<circle cx="130.18" cy="251.80" r="1.85" fill="#fff" stroke="#000" stroke-width="1.3"/>
<circle cx="137.35" cy="251.80" r="1.85" fill="#fff" stroke="#000" stroke-width="1.3"/>
<circle cx="148.11" cy="251.80" r="1.85" fill="#fff" stroke="#000" stroke-width="1.3"/>
<circle cx="162.44" cy="251.80" r="1.85" fill="#fff" stroke="#000" stroke-width="1.3"/>
<circle cx="173.20" cy="251.80" r="1.85" fill="#fff" stroke="#000" stroke-width="1.3"/>
<circle cx="183.96" cy="251.80" r="1.85" fill="#fff" stroke="#000" stroke-width="1.3"/>
<circle cx="194.71" cy="251.80" r="1.85" fill="#fff" stroke="#000" stroke-width="1.3"/>
<circle cx="198.30" cy="251.80" r="1.85" fill="#fff" stroke="#000" stroke-width="1.3"/>
<circle cx="212.64" cy="251.80" r="1.85" fill="#fff" stroke="#000" stroke-width="1.3"/>
<circle cx="230.56" cy="251.80" r="1.85" fill="#fff" stroke="#000" stroke-width="1.3"/>
<circle cx="237.73" cy="251.80" r="1.85" fill="#fff" stroke="#000" stroke-width="1.3"/>
<circle cx="244.90" cy="251.80" r="1.85" fill="#fff" stroke="#000" stroke-width="1.3"/>
<circle cx="252.07" cy="251.80" r="1.85" fill="#fff" stroke="#000" stroke-width="1.3"/>
<circle cx="262.82" cy="251.80" r="1.85" fill="#fff" stroke="#000" stroke-width="1.3"/>
<circle cx="270.00" cy="251.80" r="1.85" fill="#fff" stroke="#000" stroke-width="1.3"/>
<circle cx="277.17" cy="251.80" r="1.85" fill="#fff" stroke="#000" stroke-width="1.3"/>
<circle cx="280.75" cy="251.80" r="1.85" fill="#fff" stroke="#000" stroke-width="1.3"/>
<circle cx="302.26" cy="251.80" r="1.85" fill="#fff" stroke="#000" stroke-width="1.3"/>
<circle cx="305.85" cy="251.80" r="1.85" fill="#fff" stroke="#000" stroke-width="1.3"/>
<circle cx="313.01" cy="251.80" r="1.85" fill="#fff" stroke="#000" stroke-width="1.3"/>
<circle cx="316.60" cy="251.80" r="1.85" fill="#fff" stroke="#000" stroke-width="1.3"/>
<circle cx="338.11" cy="251.80" r="1.85" fill="#fff" stroke="#000" stroke-width="1.3"/>
<circle cx="348.87" cy="251.80" r="1.85" fill="#fff" stroke="#000" stroke-width="1.3"/>
<circle cx="359.62" cy="251.80" r="1.85" fill="#fff" stroke="#000" stroke-width="1.3"/>
<line x1="235.40" y1="300.90" x2="251.80" y2="300.90" stroke="#000" stroke-width="1.5"/>
<circle cx="243.60" cy="300.90" r="2.60" fill="#000" stroke="#000" stroke-width="1"/>
<text x="254.40" y="303.80" font-size="8.4" text-anchor="start" font-family='"Liberation Serif", serif' font-weight="bold" fill="#000" stroke="#000" stroke-width="0.24">PBMC</text>
<line x1="235.40" y1="312.30" x2="251.80" y2="312.30" stroke="#000" stroke-width="1.5"/>
<polygon points="243.60,309.20 246.70,312.30 243.60,315.40 240.50,312.30" fill="#000" stroke="#000" stroke-width="1"/>
<text x="254.40" y="315.20" font-size="8.4" text-anchor="start" font-family='"Liberation Serif", serif' font-weight="bold" fill="#000" stroke="#000" stroke-width="0.24">CD3/28 beads</text>
<line x1="235.40" y1="323.80" x2="251.80" y2="323.80" stroke="#000" stroke-width="1.5"/>
<rect x="241.70" y="321.40" width="3.80" height="4.80" fill="#fff" stroke="#000" stroke-width="1.0"/>
<text x="254.40" y="326.70" font-size="8.4" text-anchor="start" font-family='"Liberation Serif", serif' font-weight="bold" fill="#000" stroke="#000" stroke-width="0.24">KT32/4.1BBL</text>
<line x1="235.40" y1="334.50" x2="251.80" y2="334.50" stroke="#000" stroke-width="1.5"/>
<polygon points="243.60,331.60 246.70,337.80 240.50,337.80" fill="#000" stroke="#000" stroke-width="1"/>
<text x="254.40" y="337.40" font-size="8.4" text-anchor="start" font-family='"Liberation Serif", serif' font-weight="bold" fill="#000" stroke="#000" stroke-width="0.24">KT32/OX40L</text>
<line x1="235.40" y1="345.70" x2="251.80" y2="345.70" stroke="#000" stroke-width="1.5"/>
<circle cx="243.60" cy="345.70" r="1.60" fill="#fff" stroke="#000" stroke-width="1.2"/>
<text x="254.40" y="348.60" font-size="8.4" text-anchor="start" font-family='"Liberation Serif", serif' font-weight="bold" fill="#000" stroke="#000" stroke-width="0.24">PBS</text>
<rect x="106.40" y="396.40" width="282.20" height="93.00" fill="none" stroke="#444" stroke-width="1"/>
<text x="101.80" y="491.90" font-size="7.4" text-anchor="end" font-family='"Liberation Serif", serif' font-weight="bold" fill="#000" stroke="#000" stroke-width="0.21">60</text>
<text x="101.80" y="476.40" font-size="7.4" text-anchor="end" font-family='"Liberation Serif", serif' font-weight="bold" fill="#000" stroke="#000" stroke-width="0.21">70</text>
<text x="101.80" y="460.90" font-size="7.4" text-anchor="end" font-family='"Liberation Serif", serif' font-weight="bold" fill="#000" stroke="#000" stroke-width="0.21">80</text>
<text x="101.80" y="445.40" font-size="7.4" text-anchor="end" font-family='"Liberation Serif", serif' font-weight="bold" fill="#000" stroke="#000" stroke-width="0.21">90</text>
<text x="101.80" y="429.90" font-size="7.4" text-anchor="end" font-family='"Liberation Serif", serif' font-weight="bold" fill="#000" stroke="#000" stroke-width="0.21">100</text>
<text x="101.80" y="414.40" font-size="7.4" text-anchor="end" font-family='"Liberation Serif", serif' font-weight="bold" fill="#000" stroke="#000" stroke-width="0.21">110</text>
<text x="101.80" y="398.90" font-size="7.4" text-anchor="end" font-family='"Liberation Serif", serif' font-weight="bold" fill="#000" stroke="#000" stroke-width="0.21">120</text>
<text x="111.44" y="501.30" font-size="7.3" text-anchor="middle" font-family='"Liberation Serif", serif' font-weight="bold" fill="#000" stroke="#000" stroke-width="0.20">0</text>
<text x="131.60" y="501.30" font-size="7.3" text-anchor="middle" font-family='"Liberation Serif", serif' font-weight="bold" fill="#000" stroke="#000" stroke-width="0.20">6</text>
<text x="151.75" y="501.30" font-size="7.3" text-anchor="middle" font-family='"Liberation Serif", serif' font-weight="bold" fill="#000" stroke="#000" stroke-width="0.20">10</text>
<text x="171.91" y="501.30" font-size="7.3" text-anchor="middle" font-family='"Liberation Serif", serif' font-weight="bold" fill="#000" stroke="#000" stroke-width="0.20">17</text>
<text x="192.07" y="501.30" font-size="7.3" text-anchor="middle" font-family='"Liberation Serif", serif' font-weight="bold" fill="#000" stroke="#000" stroke-width="0.20">24</text>
<text x="212.23" y="501.30" font-size="7.3" text-anchor="middle" font-family='"Liberation Serif", serif' font-weight="bold" fill="#000" stroke="#000" stroke-width="0.20">31</text>
<text x="232.38" y="501.30" font-size="7.3" text-anchor="middle" font-family='"Liberation Serif", serif' font-weight="bold" fill="#000" stroke="#000" stroke-width="0.20">35</text>
<text x="252.54" y="501.30" font-size="7.3" text-anchor="middle" font-family='"Liberation Serif", serif' font-weight="bold" fill="#000" stroke="#000" stroke-width="0.20">38</text>
<text x="272.70" y="501.30" font-size="7.3" text-anchor="middle" font-family='"Liberation Serif", serif' font-weight="bold" fill="#000" stroke="#000" stroke-width="0.20">42</text>
<text x="292.85" y="501.30" font-size="7.3" text-anchor="middle" font-family='"Liberation Serif", serif' font-weight="bold" fill="#000" stroke="#000" stroke-width="0.20">47</text>
<text x="313.01" y="501.30" font-size="7.3" text-anchor="middle" font-family='"Liberation Serif", serif' font-weight="bold" fill="#000" stroke="#000" stroke-width="0.20">56</text>
<text x="333.17" y="501.30" font-size="7.3" text-anchor="middle" font-family='"Liberation Serif", serif' font-weight="bold" fill="#000" stroke="#000" stroke-width="0.20">63</text>
<text x="353.33" y="501.30" font-size="7.3" text-anchor="middle" font-family='"Liberation Serif", serif' font-weight="bold" fill="#000" stroke="#000" stroke-width="0.20">69</text>
<text x="373.48" y="501.30" font-size="7.3" text-anchor="middle" font-family='"Liberation Serif", serif' font-weight="bold" fill="#000" stroke="#000" stroke-width="0.20">76</text>
<text x="247.10" y="515.00" font-size="11.6" text-anchor="middle" font-family='"Liberation Serif", serif' font-weight="bold" fill="#000" stroke="#000" stroke-width="0.32">Day</text>
<text x="87.50" y="443.00" font-size="10.5" text-anchor="middle" font-family='"Liberation Serif", serif' font-weight="bold" fill="#000" stroke="#000" stroke-width="0.29" transform="rotate(-90 87.50 443.00)">% Initial weight</text>
<polygon points="151.00,417.90 151.97,419.87 154.14,420.18 152.57,421.71 152.94,423.87 151.00,422.85 149.06,423.87 149.43,421.71 147.86,420.18 150.03,419.87" fill="#000"/>
<polygon points="300.70,398.00 301.67,399.97 303.84,400.28 302.27,401.81 302.64,403.97 300.70,402.95 298.76,403.97 299.13,401.81 297.56,400.28 299.73,399.97" fill="#000"/>
<polyline points="111.44,427.40 121.52,438.25 131.60,439.80 141.68,443.52 151.75,450.03 161.83,461.50 171.91,454.68 181.99,452.04 192.07,455.92 202.15,456.38 212.23,480.10" fill="none" stroke="#000" stroke-width="1.15" stroke-linejoin="miter"/>
<polyline points="111.44,427.40 121.52,437.47 131.60,437.47 141.68,441.35 151.75,442.59 161.83,450.65 171.91,450.03 181.99,445.22 192.07,444.45 202.15,440.42 212.23,443.99 222.30,446.15 232.38,439.18 242.46,439.18 252.54,441.50 262.62,443.36 272.70,440.57 282.78,440.57 292.85,440.57 302.93,444.45 313.01,444.14 323.09,443.67 333.17,432.82 343.25,429.88 353.33,427.71 363.40,426.00 373.48,421.97 383.56,422.90" fill="none" stroke="#000" stroke-width="1.15" stroke-linejoin="miter"/>
<polyline points="111.44,427.40 121.52,441.66 131.60,441.35 141.68,430.81 151.75,430.81 161.83,437.01 171.91,442.59 181.99,431.89 192.07,432.05 202.15,420.74 212.23,415.00 222.30,423.68 232.38,411.12 242.46,411.44 252.54,411.90 262.62,416.86 272.70,410.97 282.78,409.42 292.85,406.63 302.93,408.18 313.01,413.45 323.09,413.76 333.17,412.52 343.25,415.15 353.33,406.47 363.40,407.40 373.48,406.94 383.56,403.84" fill="none" stroke="#111" stroke-width="1.15" stroke-linejoin="miter"/>
<polyline points="111.44,427.40 121.52,435.46 131.60,433.13 141.68,435.15 151.75,432.20 161.83,435.15 171.91,434.53 181.99,435.15 192.07,432.05 202.15,426.16 212.23,422.28 222.30,435.15 232.38,425.85 242.46,427.09 252.54,422.75 262.62,429.26 272.70,423.83 282.78,422.90 292.85,420.27 302.93,408.18 313.01,415.15 323.09,410.50 333.17,407.40 343.25,406.01 353.33,405.24 363.40,405.70 373.48,405.24 383.56,400.74" fill="none" stroke="#000" stroke-width="1.15" stroke-linejoin="miter"/>
<polyline points="111.44,427.40 121.52,448.63 131.60,453.75 141.68,460.72 151.75,450.03 161.83,450.65 171.91,447.70 181.99,442.59 192.07,441.97 202.15,428.95 212.23,425.38 222.30,435.15 232.38,430.50 242.46,429.72 252.54,427.86 262.62,427.71 272.70,421.97 282.78,416.08 292.85,412.52 302.93,408.18 313.01,414.22 323.09,413.45 333.17,415.62 343.25,414.07 353.33,406.47 363.40,410.81 373.48,406.94 383.56,403.22" fill="none" stroke="#111" stroke-width="1.25" stroke-linejoin="miter" stroke-dasharray="4.2 2.6"/>
<circle cx="111.44" cy="427.40" r="1.20" fill="#000" stroke="#000" stroke-width="1"/>
<circle cx="121.52" cy="438.25" r="1.20" fill="#000" stroke="#000" stroke-width="1"/>
<circle cx="131.60" cy="439.80" r="1.20" fill="#000" stroke="#000" stroke-width="1"/>
<circle cx="141.68" cy="443.52" r="1.20" fill="#000" stroke="#000" stroke-width="1"/>
<circle cx="151.75" cy="450.03" r="1.20" fill="#000" stroke="#000" stroke-width="1"/>
<circle cx="161.83" cy="461.50" r="1.20" fill="#000" stroke="#000" stroke-width="1"/>
<circle cx="171.91" cy="454.68" r="1.20" fill="#000" stroke="#000" stroke-width="1"/>
<circle cx="181.99" cy="452.04" r="1.20" fill="#000" stroke="#000" stroke-width="1"/>
<circle cx="192.07" cy="455.92" r="1.20" fill="#000" stroke="#000" stroke-width="1"/>
<circle cx="202.15" cy="456.38" r="1.20" fill="#000" stroke="#000" stroke-width="1"/>
<circle cx="212.23" cy="480.10" r="1.20" fill="#000" stroke="#000" stroke-width="1"/>
<polygon points="111.44,425.50 113.34,427.40 111.44,429.30 109.54,427.40" fill="#000" stroke="#000" stroke-width="1"/>
<polygon points="121.52,435.57 123.42,437.47 121.52,439.37 119.62,437.47" fill="#000" stroke="#000" stroke-width="1"/>
<polygon points="131.60,435.57 133.50,437.47 131.60,439.37 129.70,437.47" fill="#000" stroke="#000" stroke-width="1"/>
<polygon points="141.68,439.45 143.58,441.35 141.68,443.25 139.78,441.35" fill="#000" stroke="#000" stroke-width="1"/>
<polygon points="151.75,440.69 153.65,442.59 151.75,444.49 149.85,442.59" fill="#000" stroke="#000" stroke-width="1"/>
<polygon points="161.83,448.75 163.73,450.65 161.83,452.55 159.93,450.65" fill="#000" stroke="#000" stroke-width="1"/>
<polygon points="171.91,448.13 173.81,450.03 171.91,451.93 170.01,450.03" fill="#000" stroke="#000" stroke-width="1"/>
<polygon points="181.99,443.32 183.89,445.22 181.99,447.12 180.09,445.22" fill="#000" stroke="#000" stroke-width="1"/>
<polygon points="192.07,442.55 193.97,444.45 192.07,446.35 190.17,444.45" fill="#000" stroke="#000" stroke-width="1"/>
<polygon points="202.15,438.52 204.05,440.42 202.15,442.32 200.25,440.42" fill="#000" stroke="#000" stroke-width="1"/>
<polygon points="212.23,442.09 214.13,443.99 212.23,445.88 210.33,443.99" fill="#000" stroke="#000" stroke-width="1"/>
<polygon points="222.30,444.25 224.20,446.15 222.30,448.05 220.40,446.15" fill="#000" stroke="#000" stroke-width="1"/>
<polygon points="232.38,437.28 234.28,439.18 232.38,441.08 230.48,439.18" fill="#000" stroke="#000" stroke-width="1"/>
<polygon points="242.46,437.28 244.36,439.18 242.46,441.08 240.56,439.18" fill="#000" stroke="#000" stroke-width="1"/>
<polygon points="252.54,439.61 254.44,441.50 252.54,443.40 250.64,441.50" fill="#000" stroke="#000" stroke-width="1"/>
<polygon points="262.62,441.46 264.52,443.36 262.62,445.26 260.72,443.36" fill="#000" stroke="#000" stroke-width="1"/>
<polygon points="272.70,438.68 274.60,440.57 272.70,442.47 270.80,440.57" fill="#000" stroke="#000" stroke-width="1"/>
<polygon points="282.78,438.68 284.68,440.57 282.78,442.47 280.88,440.57" fill="#000" stroke="#000" stroke-width="1"/>
<polygon points="292.85,438.68 294.75,440.57 292.85,442.47 290.95,440.57" fill="#000" stroke="#000" stroke-width="1"/>
<polygon points="302.93,442.55 304.83,444.45 302.93,446.35 301.03,444.45" fill="#000" stroke="#000" stroke-width="1"/>
<polygon points="313.01,442.24 314.91,444.14 313.01,446.04 311.11,444.14" fill="#000" stroke="#000" stroke-width="1"/>
<polygon points="323.09,441.77 324.99,443.67 323.09,445.57 321.19,443.67" fill="#000" stroke="#000" stroke-width="1"/>
<polygon points="333.17,430.93 335.07,432.82 333.17,434.72 331.27,432.82" fill="#000" stroke="#000" stroke-width="1"/>
<polygon points="343.25,427.98 345.15,429.88 343.25,431.78 341.35,429.88" fill="#000" stroke="#000" stroke-width="1"/>
<polygon points="353.33,425.81 355.23,427.71 353.33,429.61 351.43,427.71" fill="#000" stroke="#000" stroke-width="1"/>
<polygon points="363.40,424.11 365.30,426.00 363.40,427.90 361.50,426.00" fill="#000" stroke="#000" stroke-width="1"/>
<polygon points="373.48,420.07 375.38,421.97 373.48,423.87 371.58,421.97" fill="#000" stroke="#000" stroke-width="1"/>
<polygon points="383.56,421.00 385.46,422.90 383.56,424.80 381.66,422.90" fill="#000" stroke="#000" stroke-width="1"/>
<polygon points="111.44,425.85 112.99,428.95 109.89,428.95" fill="#000" stroke="#000" stroke-width="1"/>
<polygon points="121.52,433.91 123.07,437.01 119.97,437.01" fill="#000" stroke="#000" stroke-width="1"/>
<polygon points="131.60,431.58 133.15,434.69 130.05,434.69" fill="#000" stroke="#000" stroke-width="1"/>
<polygon points="141.68,433.60 143.23,436.70 140.12,436.70" fill="#000" stroke="#000" stroke-width="1"/>
<polygon points="151.75,430.65 153.30,433.75 150.20,433.75" fill="#000" stroke="#000" stroke-width="1"/>
<polygon points="161.83,433.60 163.38,436.70 160.28,436.70" fill="#000" stroke="#000" stroke-width="1"/>
<polygon points="171.91,432.98 173.46,436.08 170.36,436.08" fill="#000" stroke="#000" stroke-width="1"/>
<polygon points="181.99,433.60 183.54,436.70 180.44,436.70" fill="#000" stroke="#000" stroke-width="1"/>
<polygon points="192.07,430.50 193.62,433.60 190.52,433.60" fill="#000" stroke="#000" stroke-width="1"/>
<polygon points="202.15,424.61 203.70,427.71 200.60,427.71" fill="#000" stroke="#000" stroke-width="1"/>
<polygon points="212.23,420.73 213.78,423.83 210.68,423.83" fill="#000" stroke="#000" stroke-width="1"/>
<polygon points="222.30,433.60 223.85,436.70 220.75,436.70" fill="#000" stroke="#000" stroke-width="1"/>
<polygon points="232.38,424.30 233.93,427.40 230.83,427.40" fill="#000" stroke="#000" stroke-width="1"/>
<polygon points="242.46,425.54 244.01,428.64 240.91,428.64" fill="#000" stroke="#000" stroke-width="1"/>
<polygon points="252.54,421.20 254.09,424.30 250.99,424.30" fill="#000" stroke="#000" stroke-width="1"/>
<polygon points="262.62,427.71 264.17,430.81 261.07,430.81" fill="#000" stroke="#000" stroke-width="1"/>
<polygon points="272.70,422.28 274.25,425.38 271.15,425.38" fill="#000" stroke="#000" stroke-width="1"/>
<polygon points="282.78,421.35 284.33,424.45 281.23,424.45" fill="#000" stroke="#000" stroke-width="1"/>
<polygon points="292.85,418.72 294.40,421.82 291.30,421.82" fill="#000" stroke="#000" stroke-width="1"/>
<polygon points="302.93,406.63 304.48,409.73 301.38,409.73" fill="#000" stroke="#000" stroke-width="1"/>
<polygon points="313.01,413.60 314.56,416.70 311.46,416.70" fill="#000" stroke="#000" stroke-width="1"/>
<polygon points="323.09,408.95 324.64,412.06 321.54,412.06" fill="#000" stroke="#000" stroke-width="1"/>
<polygon points="333.17,405.85 334.72,408.95 331.62,408.95" fill="#000" stroke="#000" stroke-width="1"/>
<polygon points="343.25,404.46 344.80,407.56 341.70,407.56" fill="#000" stroke="#000" stroke-width="1"/>
<polygon points="353.33,403.69 354.88,406.79 351.78,406.79" fill="#000" stroke="#000" stroke-width="1"/>
<polygon points="363.40,404.15 364.95,407.25 361.85,407.25" fill="#000" stroke="#000" stroke-width="1"/>
<polygon points="373.48,403.69 375.03,406.79 371.93,406.79" fill="#000" stroke="#000" stroke-width="1"/>
<polygon points="383.56,399.19 385.11,402.29 382.01,402.29" fill="#000" stroke="#000" stroke-width="1"/>
<circle cx="121.52" cy="448.63" r="1.30" fill="#000" stroke="#000" stroke-width="0.6"/>
<circle cx="131.60" cy="453.75" r="1.30" fill="#000" stroke="#000" stroke-width="0.6"/>
<circle cx="141.68" cy="460.72" r="1.30" fill="#000" stroke="#000" stroke-width="0.6"/>
<circle cx="151.75" cy="450.03" r="1.30" fill="#000" stroke="#000" stroke-width="0.6"/>
<circle cx="161.83" cy="450.65" r="1.30" fill="#000" stroke="#000" stroke-width="0.6"/>
<circle cx="171.91" cy="447.70" r="1.30" fill="#000" stroke="#000" stroke-width="0.6"/>
<circle cx="181.99" cy="442.59" r="1.30" fill="#000" stroke="#000" stroke-width="0.6"/>
<circle cx="192.07" cy="441.97" r="1.30" fill="#000" stroke="#000" stroke-width="0.6"/>
<circle cx="202.15" cy="428.95" r="1.30" fill="#000" stroke="#000" stroke-width="0.6"/>
<circle cx="212.23" cy="425.38" r="1.30" fill="#000" stroke="#000" stroke-width="0.6"/>
<circle cx="222.30" cy="435.15" r="1.30" fill="#000" stroke="#000" stroke-width="0.6"/>
<circle cx="232.38" cy="430.50" r="1.30" fill="#000" stroke="#000" stroke-width="0.6"/>
<circle cx="242.46" cy="429.72" r="1.30" fill="#000" stroke="#000" stroke-width="0.6"/>
<circle cx="252.54" cy="427.86" r="1.30" fill="#000" stroke="#000" stroke-width="0.6"/>
<circle cx="262.62" cy="427.71" r="1.30" fill="#000" stroke="#000" stroke-width="0.6"/>
<circle cx="272.70" cy="421.97" r="1.30" fill="#000" stroke="#000" stroke-width="0.6"/>
<circle cx="282.78" cy="416.08" r="1.30" fill="#000" stroke="#000" stroke-width="0.6"/>
<circle cx="292.85" cy="412.52" r="1.30" fill="#000" stroke="#000" stroke-width="0.6"/>
<circle cx="302.93" cy="408.18" r="1.30" fill="#000" stroke="#000" stroke-width="0.6"/>
<circle cx="313.01" cy="414.22" r="1.30" fill="#000" stroke="#000" stroke-width="0.6"/>
<circle cx="323.09" cy="413.45" r="1.30" fill="#000" stroke="#000" stroke-width="0.6"/>
<circle cx="333.17" cy="415.62" r="1.30" fill="#000" stroke="#000" stroke-width="0.6"/>
<circle cx="343.25" cy="414.07" r="1.30" fill="#000" stroke="#000" stroke-width="0.6"/>
<circle cx="353.33" cy="406.47" r="1.30" fill="#000" stroke="#000" stroke-width="0.6"/>
<circle cx="363.40" cy="410.81" r="1.30" fill="#000" stroke="#000" stroke-width="0.6"/>
<circle cx="373.48" cy="406.94" r="1.30" fill="#000" stroke="#000" stroke-width="0.6"/>
<circle cx="383.56" cy="403.22" r="1.30" fill="#000" stroke="#000" stroke-width="0.6"/>
<rect x="120.07" y="440.21" width="2.90" height="2.90" fill="#fff" stroke="#222" stroke-width="0.8"/>
<rect x="130.15" y="439.90" width="2.90" height="2.90" fill="#fff" stroke="#222" stroke-width="0.8"/>
<rect x="140.23" y="429.36" width="2.90" height="2.90" fill="#fff" stroke="#222" stroke-width="0.8"/>
<rect x="150.30" y="429.36" width="2.90" height="2.90" fill="#fff" stroke="#222" stroke-width="0.8"/>
<rect x="160.38" y="435.56" width="2.90" height="2.90" fill="#fff" stroke="#222" stroke-width="0.8"/>
<rect x="170.46" y="441.14" width="2.90" height="2.90" fill="#fff" stroke="#222" stroke-width="0.8"/>
<rect x="180.54" y="430.44" width="2.90" height="2.90" fill="#fff" stroke="#222" stroke-width="0.8"/>
<rect x="190.62" y="430.60" width="2.90" height="2.90" fill="#fff" stroke="#222" stroke-width="0.8"/>
<rect x="200.70" y="419.29" width="2.90" height="2.90" fill="#fff" stroke="#222" stroke-width="0.8"/>
<rect x="210.78" y="413.55" width="2.90" height="2.90" fill="#fff" stroke="#222" stroke-width="0.8"/>
<rect x="220.85" y="422.23" width="2.90" height="2.90" fill="#fff" stroke="#222" stroke-width="0.8"/>
<rect x="230.93" y="409.68" width="2.90" height="2.90" fill="#fff" stroke="#222" stroke-width="0.8"/>
<rect x="241.01" y="409.99" width="2.90" height="2.90" fill="#fff" stroke="#222" stroke-width="0.8"/>
<rect x="251.09" y="410.45" width="2.90" height="2.90" fill="#fff" stroke="#222" stroke-width="0.8"/>
<rect x="261.17" y="415.41" width="2.90" height="2.90" fill="#fff" stroke="#222" stroke-width="0.8"/>
<rect x="271.25" y="409.52" width="2.90" height="2.90" fill="#fff" stroke="#222" stroke-width="0.8"/>
<rect x="281.33" y="407.97" width="2.90" height="2.90" fill="#fff" stroke="#222" stroke-width="0.8"/>
<rect x="291.40" y="405.18" width="2.90" height="2.90" fill="#fff" stroke="#222" stroke-width="0.8"/>
<rect x="301.48" y="406.73" width="2.90" height="2.90" fill="#fff" stroke="#222" stroke-width="0.8"/>
<rect x="311.56" y="412.00" width="2.90" height="2.90" fill="#fff" stroke="#222" stroke-width="0.8"/>
<rect x="321.64" y="412.31" width="2.90" height="2.90" fill="#fff" stroke="#222" stroke-width="0.8"/>
<rect x="331.72" y="411.07" width="2.90" height="2.90" fill="#fff" stroke="#222" stroke-width="0.8"/>
<rect x="341.80" y="413.70" width="2.90" height="2.90" fill="#fff" stroke="#222" stroke-width="0.8"/>
<rect x="351.88" y="405.02" width="2.90" height="2.90" fill="#fff" stroke="#222" stroke-width="0.8"/>
<rect x="361.95" y="405.95" width="2.90" height="2.90" fill="#fff" stroke="#222" stroke-width="0.8"/>
<rect x="372.03" y="405.49" width="2.90" height="2.90" fill="#fff" stroke="#222" stroke-width="0.8"/>
<rect x="382.11" y="402.39" width="2.90" height="2.90" fill="#fff" stroke="#222" stroke-width="0.8"/>
<circle cx="111.44" cy="427.40" r="1.80" fill="#000" stroke="#000" stroke-width="1"/>
<line x1="316.60" y1="451.10" x2="328.00" y2="451.10" stroke="#000" stroke-width="1.0"/>
<circle cx="322.30" cy="451.10" r="0.90" fill="#000" stroke="#000" stroke-width="1"/>
<text x="331.00" y="454.00" font-size="8.65" text-anchor="start" font-family='"Liberation Serif", serif' font-weight="bold" fill="#000" stroke="#000" stroke-width="0.24">PBMC</text>
<line x1="316.60" y1="459.50" x2="328.00" y2="459.50" stroke="#000" stroke-width="1.0"/>
<polygon points="322.30,457.80 324.00,459.50 322.30,461.20 320.60,459.50" fill="#000" stroke="#000" stroke-width="1"/>
<text x="331.00" y="462.40" font-size="8.65" text-anchor="start" font-family='"Liberation Serif", serif' font-weight="bold" fill="#000" stroke="#000" stroke-width="0.24">CD3/28 beads</text>
<line x1="316.60" y1="467.30" x2="328.00" y2="467.30" stroke="#555" stroke-width="1.0"/>
<rect x="320.90" y="465.90" width="2.80" height="2.80" fill="#fff" stroke="#333" stroke-width="0.7"/>
<text x="331.00" y="470.20" font-size="8.65" text-anchor="start" font-family='"Liberation Serif", serif' font-weight="bold" fill="#000" stroke="#000" stroke-width="0.24">KT32/4.1BBL</text>
<line x1="316.60" y1="475.50" x2="328.00" y2="475.50" stroke="#000" stroke-width="1.0"/>
<polygon points="322.30,473.90 323.90,477.10 320.70,477.10" fill="#000" stroke="#000" stroke-width="1"/>
<text x="331.00" y="478.40" font-size="8.65" text-anchor="start" font-family='"Liberation Serif", serif' font-weight="bold" fill="#000" stroke="#000" stroke-width="0.24">KT32/OX40L</text>
<line x1="316.60" y1="483.60" x2="328.00" y2="483.60" stroke="#555" stroke-width="1.0"/>
<circle cx="322.30" cy="483.60" r="1.40" fill="#fff" stroke="#333" stroke-width="0.7"/>
<text x="331.00" y="486.50" font-size="8.65" text-anchor="start" font-family='"Liberation Serif", serif' font-weight="bold" fill="#000" stroke="#000" stroke-width="0.24">PBS</text>
</svg>
</body></html>
